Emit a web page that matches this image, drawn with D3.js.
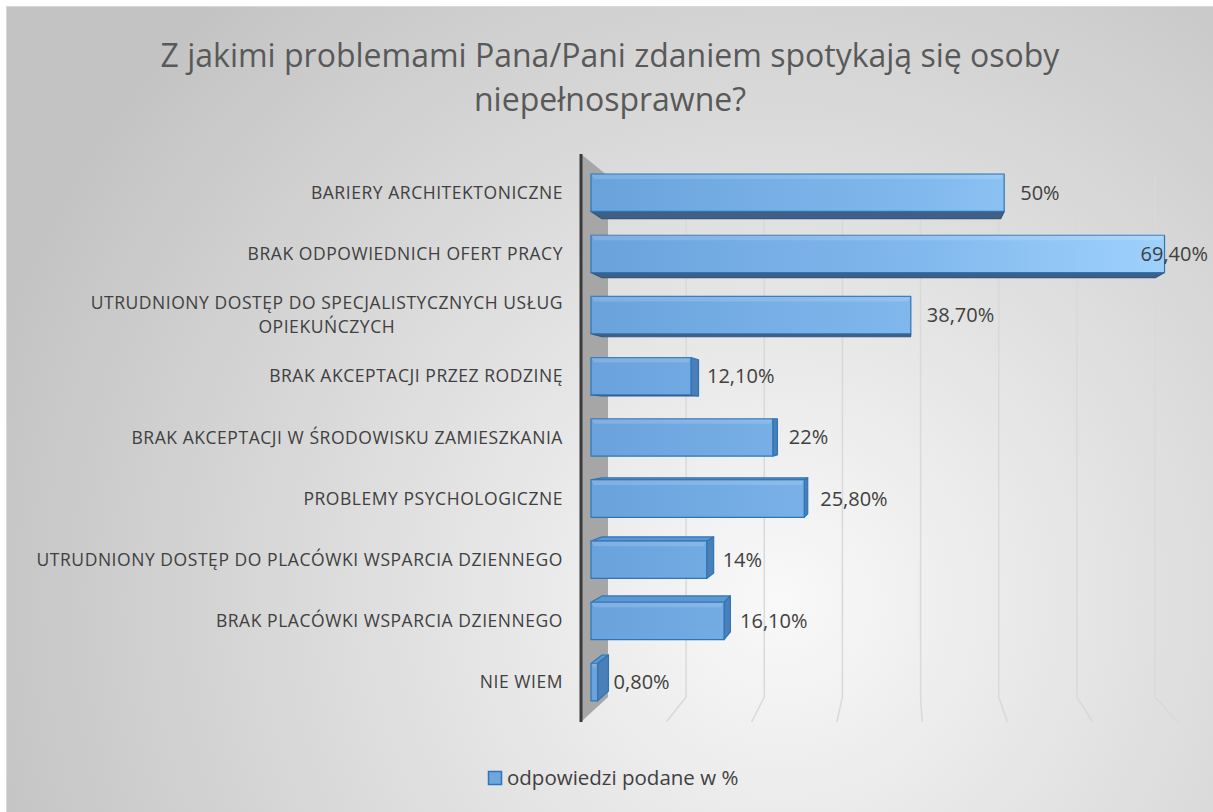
<!DOCTYPE html>
<html>
<head>
<meta charset="utf-8">
<script src="https://cdn.jsdelivr.net/npm/d3@7"></script>
<style>
  html, body { margin: 0; padding: 0; background: #fff; }
  svg { display: block; font-family: "Open Sans", "Noto Sans", sans-serif; }
</style>
</head>
<body>
<div id="chart"></div>
<script>
// Chart data
const titleLines = ['Z jakimi problemami Pana/Pani zdaniem spotykają się osoby', 'niepełnosprawne?'];
const categories = [
    'BARIERY ARCHITEKTONICZNE',
    'BRAK ODPOWIEDNICH OFERT PRACY',
    'UTRUDNIONY DOSTĘP DO SPECJALISTYCZNYCH USŁUG OPIEKUŃCZYCH',
    'BRAK AKCEPTACJI PRZEZ RODZINĘ',
    'BRAK AKCEPTACJI W ŚRODOWISKU ZAMIESZKANIA',
    'PROBLEMY PSYCHOLOGICZNE',
    'UTRUDNIONY DOSTĘP DO PLACÓWKI WSPARCIA DZIENNEGO',
    'BRAK PLACÓWKI WSPARCIA DZIENNEGO',
    'NIE WIEM'
];
const values = [50, 69.4, 38.7, 12.1, 22, 25.8, 14, 16.1, 0.8];
const valueLabels = ['50%', '69,40%', '38,70%', '12,10%', '22%', '25,80%', '14%', '16,10%', '0,80%'];
const gridTicks = [10, 20, 30, 40, 50, 60, 70];
const seriesName = 'odpowiedzi podane w %';

const width = 1213;
const height = 812;

const svg = d3.select('#chart')
    .append('svg')
    .attr('width', width)
    .attr('height', height);

const defs = svg.append('defs');

// Background: soft radial grey like the Excel style
const bg = defs.append('radialGradient')
    .attr('id', 'bg')
    .attr('gradientUnits', 'userSpaceOnUse')
    .attr('cx', 780).attr('cy', 600).attr('r', 830);
bg.append('stop').attr('offset', '0%').attr('stop-color', '#f9f9f9');
bg.append('stop').attr('offset', '100%').attr('stop-color', '#c3c3c3');

// Bar front gradient, spans the whole plot horizontally
const barGrad = defs.append('linearGradient')
    .attr('id', 'barGrad')
    .attr('gradientUnits', 'userSpaceOnUse')
    .attr('x1', 590).attr('y1', 0).attr('x2', 1170).attr('y2', 0);
barGrad.append('stop').attr('offset', '0%').attr('stop-color', '#6aa2dc');
barGrad.append('stop').attr('offset', '55%').attr('stop-color', '#80b8ed');
barGrad.append('stop').attr('offset', '100%').attr('stop-color', '#9fd1fc');

svg.append('rect')
    .attr('x', 6.5).attr('y', 6.5)
    .attr('width', width).attr('height', height)
    .attr('fill', 'url(#bg)')
    .attr('stroke', '#d9d9d9');

// Title
svg.append('text')
    .attr('text-anchor', 'middle')
    .attr('fill', '#595959')
    .style('font-size', '32px')
    .selectAll('tspan')
    .data(titleLines)
    .join('tspan')
    .attr('x', 610)
    .attr('y', (d, i) => 67 + i * 44)
    .text(d => d);

// Simple perspective: back plane and front plane, interpolate by depth z (0 = back, 1 = front)
const xBack = d3.scaleLinear().domain([0, 70]).range([608, 1155]);
const xFront = d3.scaleLinear().domain([0, 70]).range([581, 1178]);
const yBack = d3.scaleLinear().domain([0, 1]).range([176, 697]);
const yFront = d3.scaleLinear().domain([0, 1]).range([154, 722]);

const band = d3.scaleBand()
    .domain(categories)
    .range([0, 1])
    .paddingInner(0.39)
    .paddingOuter(0.195);

function project(v, u, z) {
    return [
        xBack(v) + (xFront(v) - xBack(v)) * z,
        yBack(u) + (yFront(u) - yBack(u)) * z
    ];
}

const line = d3.line();
const poly = pts => line(pts) + 'Z';

// Left side wall (the category axis wall)
svg.append('path')
    .attr('d', poly([project(0, 0, 1), project(0, 0, 0), project(0, 1, 0), project(0, 1, 1)]))
    .attr('fill', '#a6a6a6');

// Gridlines on the back wall and across the floor
const grid = svg.append('g')
    .attr('fill', 'none')
    .attr('stroke', '#d9d9d9')
    .attr('stroke-width', 1.5);
grid.selectAll('path')
    .data(gridTicks)
    .join('path')
    .attr('d', v => line([project(v, 0, 0), project(v, 1, 0), project(v, 1, 1)]));

// Front axis line
svg.append('path')
    .attr('d', line([project(0, 0, 1), project(0, 1, 1)]))
    .attr('stroke', '#3a3a3a')
    .attr('stroke-width', 3)
    .attr('fill', 'none');

// Bars
const zBack = 0.22;
const zFront = 0.63;
const bars = svg.append('g')
    .attr('stroke', '#2e75b6')
    .attr('stroke-width', 1.2)
    .attr('stroke-linejoin', 'round');

categories.forEach((cat, i) => {
    const v = values[i];
    const u0 = band(cat);
    const u1 = u0 + band.bandwidth();
    const g = bars.append('g');

    const fTL = project(0, u0, zFront), fTR = project(v, u0, zFront);
    const fBR = project(v, u1, zFront), fBL = project(0, u1, zFront);
    const bTL = project(0, u0, zBack), bTR = project(v, u0, zBack);
    const bBR = project(v, u1, zBack), bBL = project(0, u1, zBack);

    // bottom face (seen from below)
    if (bBL[1] > fBL[1]) {
        g.append('path').attr('d', poly([fBL, fBR, bBR, bBL]))
            .attr('fill', '#3f5f86').attr('stroke', '#35577e');
    }
    // top face (seen from above)
    if (bTL[1] < fTL[1]) {
        g.append('path').attr('d', poly([fTL, fTR, bTR, bTL]))
            .attr('fill', '#5d97d3');
    }
    // end face
    if (bTR[0] > fTR[0]) {
        g.append('path').attr('d', poly([fTR, bTR, bBR, fBR]))
            .attr('fill', '#4a7fb8');
    }
    // front face
    g.append('path').attr('d', poly([fTL, fTR, fBR, fBL]))
        .attr('fill', 'url(#barGrad)');
    // soft bevel highlight along the top
    g.append('path').attr('d', poly([fTL, fTR, [fTR[0] - 3, fTR[1] + 5], [fTL[0] + 3, fTL[1] + 5]]))
        .attr('fill', '#ffffff').attr('fill-opacity', 0.15).attr('stroke', 'none');
});

// Value labels
const valueG = svg.append('g')
    .attr('fill', '#404040')
    .style('font-size', '20px');
categories.forEach((cat, i) => {
    const v = values[i];
    const uMid = band(cat) + band.bandwidth() / 2;
    const end = project(v, uMid, zFront);
    const t = valueG.append('text')
        .attr('y', end[1])
        .attr('dy', '0.35em')
        .text(valueLabels[i]);
    const w = t.node().getComputedTextLength();
    t.attr('x', Math.min(end[0] + 16, 1208 - w));
});

// Category labels, wrapped when too long
const labelG = svg.append('g')
    .attr('fill', '#404040')
    .style('font-size', '17.5px')
    .style('letter-spacing', '0.55px');
const labelRight = 563;
const maxLabelWidth = 560;

categories.forEach(cat => {
    const uMid = band(cat) + band.bandwidth() / 2;
    const yMid = project(0, uMid, zFront)[1];
    const t = labelG.append('text').attr('text-anchor', 'end');
    // wrap words
    const words = cat.split(' ');
    const lines = [];
    let cur = [];
    words.forEach(w => {
        t.text([...cur, w].join(' '));
        if (cur.length && t.node().getComputedTextLength() > maxLabelWidth) {
            lines.push(cur.join(' '));
            cur = [w];
        } else {
            cur.push(w);
        }
    });
    lines.push(cur.join(' '));
    t.text(null);

    if (lines.length === 1) {
        t.attr('x', labelRight).attr('y', yMid).attr('dy', '0.35em').text(lines[0]);
    } else {
        // measure widest line, center lines in that block
        const widths = lines.map(l => { t.text(l); return t.node().getComputedTextLength(); });
        t.text(null);
        const maxW = d3.max(widths);
        const lh = 24;
        t.attr('text-anchor', 'middle');
        t.selectAll('tspan')
            .data(lines)
            .join('tspan')
            .attr('x', labelRight - maxW / 2)
            .attr('y', (d, j) => yMid + (j - (lines.length - 1) / 2) * lh)
            .attr('dy', '0.35em')
            .text(d => d);
    }
});

// Legend
const legend = svg.append('g');
legend.append('rect')
    .attr('x', 488.5).attr('y', 771.5)
    .attr('width', 13).attr('height', 13)
    .attr('fill', '#6fa6dd')
    .attr('stroke', '#2e75b6')
    .attr('stroke-width', 1.5);
legend.append('text')
    .attr('x', 507).attr('y', 785)
    .attr('fill', '#404040')
    .style('font-size', '20.5px')
    .text(seriesName);
</script>
</body>
</html>
